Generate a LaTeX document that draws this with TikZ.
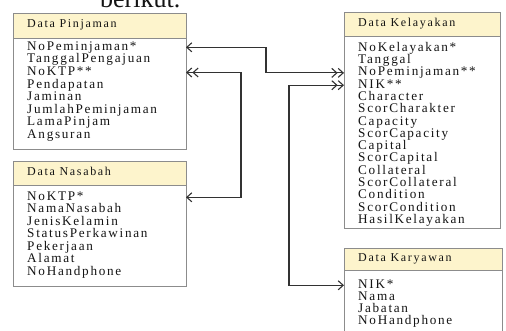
\documentclass[tikz,border=0pt]{standalone}
\usepackage{fontspec}
\setmainfont{Liberation Serif}
\usetikzlibrary{arrows.meta}
\definecolor{hdrfill}{RGB}{253,244,204}
\definecolor{boxline}{RGB}{140,140,140}
\definecolor{connline}{RGB}{50,50,50}
\definecolor{txt}{RGB}{20,20,20}
\tikzset{
  tbl/.style={draw=boxline, line width=0.9pt, fill=white, anchor=north west, inner sep=0pt, outer sep=0pt},
  hdr/.style={draw=boxline, line width=0.9pt, fill=hdrfill, anchor=north west, inner sep=0pt, outer sep=0pt},
  hdrtext/.style={anchor=mid west, inner sep=0pt, text=txt, font=\fontsize{12}{13}\selectfont\addfontfeature{LetterSpace=14}},
  rowtext/.style={anchor=mid west, inner sep=0pt, text height=8.5pt, text depth=2.5pt, text=txt, font=\fontsize{13.2}{13.2}\selectfont\addfontfeature{LetterSpace=13}},
  conn/.style={draw=connline, line width=1.2pt},
  one/.tip={Straight Barb[length=5pt,width=9pt,line width=1.1pt]},
  two/.tip={Straight Barb[length=5pt,width=9pt,line width=1.1pt] Straight Barb[length=5pt,width=9pt,line width=1.1pt]}
}
\begin{document}
\begin{tikzpicture}[x=1pt,y=-1pt]
\useasboundingbox (0,0) rectangle (506,331);
\node[anchor=base west, inner sep=0pt, text=txt, font=\fontsize{26}{26}\selectfont] (title) at (100,8) {berikut.};
% Data Pinjaman
\node[tbl, minimum width=173pt, minimum height=136pt] (pinj) at (13,13) {};
\node[hdr, minimum width=173pt, minimum height=25pt] (pinjH) at (13,13) {};
\node[hdrtext] (pinjT) at (27,25.5) {Data Pinjaman};
\foreach \t [count=\i] in {NoPeminjaman*,TanggalPengajuan,NoKTP**,Pendapatan,Jaminan,JumlahPeminjaman,LamaPinjam,Angsuran}
  \node[rowtext] (p\i) at (27,{48+12.6*(\i-1)}) {\t};
% Data Nasabah
\node[tbl, minimum width=173pt, minimum height=125pt] (nas) at (13,161) {};
\node[hdr, minimum width=173pt, minimum height=24pt] (nasH) at (13,161) {};
\node[hdrtext] (nasT) at (27,173) {Data Nasabah};
\foreach \t [count=\i] in {NoKTP*,NamaNasabah,JenisKelamin,StatusPerkawinan,Pekerjaan,Alamat,NoHandphone}
  \node[rowtext] (n\i) at (27,{198+12.5*(\i-1)}) {\t};
% Data Kelayakan
\node[tbl, minimum width=156pt, minimum height=216pt] (kel) at (344,12) {};
\node[hdr, minimum width=156pt, minimum height=24pt] (kelH) at (344,12) {};
\node[hdrtext] (kelT) at (358,24) {Data Kelayakan};
\foreach \t [count=\i] in {NoKelayakan*,Tanggal,NoPeminjaman**,NIK**,Character,ScorCharakter,Capacity,ScorCapacity,Capital,ScorCapital,Collateral,ScorCollateral,Condition,ScorCondition,HasilKelayakan}
  \node[rowtext] (k\i) at (358,{49+12.3*(\i-1)}) {\t};
% Data Karyawan
\node[tbl, minimum width=158pt, minimum height=100pt] (kar) at (344,248) {};
\node[hdr, minimum width=158pt, minimum height=22pt] (karH) at (344,248) {};
\node[hdrtext] (karT) at (358,259) {Data Karyawan};
\foreach \t [count=\i] in {NIK*,Nama,Jabatan,NoHandphone}
  \node[rowtext] (r\i) at (358,{286+12*(\i-1)}) {\t};
% connectors
\draw[conn, {one}-{two}] (pinj.east |- p1.west) -- ++(80,0) |- (kel.west |- k3.west);
\draw[conn, {two}-{one}] (pinj.east |- p3.west) -- ++(55,0) |- (nas.east |- n1.west);
\draw[conn, {two}-{one}] (kel.west |- k4.west) -- ++(-55,0) |- (kar.west |- r1.west);
\end{tikzpicture}
\end{document}
